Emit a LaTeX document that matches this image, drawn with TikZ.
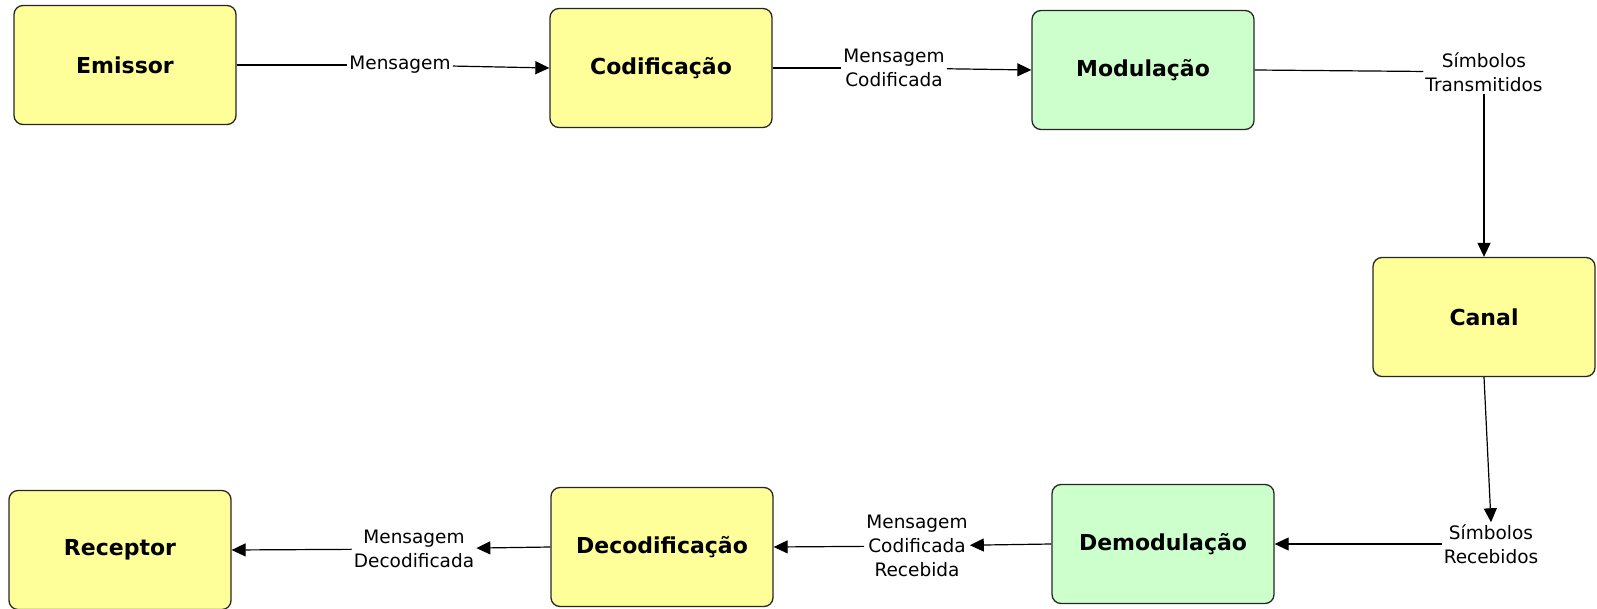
\documentclass[tikz,border=0pt]{standalone}
\usepackage{fontspec}
\setmainfont{DejaVu Sans}
\usetikzlibrary{arrows.meta}

\definecolor{boxyellow}{RGB}{255,255,153}
\definecolor{boxgreen}{RGB}{204,255,204}

\begin{document}
\begin{tikzpicture}[x=1pt,y=-1pt,
    block/.style={draw=black!85, line width=1.3pt, rounded corners=9pt,
      minimum width=222pt, minimum height=119pt, inner sep=0pt,
      font=\fontsize{22}{26}\selectfont\bfseries},
    yellowblock/.style={block, fill=boxyellow},
    greenblock/.style={block, fill=boxgreen},
    lbl/.style={font=\fontsize{18.5}{24}\selectfont, align=center, inner sep=2pt},
    conn/.style={line width=1.2pt},
    arr/.style={conn, -{Triangle[length=14pt,width=13pt]}}]
  \useasboundingbox (0,0) rectangle (1597,609);
  % blocks
  \node [yellowblock] (emissor) at (125,65) {Emissor};
  \node [yellowblock] (codif) at (661,68) {Codificação};
  \node [greenblock] (modul) at (1143,70) {Modulação};
  \node [yellowblock] (canal) at (1484,317) {Canal};
  \node [greenblock] (demod) at (1163,544) {Demodulação};
  \node [yellowblock] (decod) at (662,547) {Decodificação};
  \node [yellowblock] (receptor) at (120,550) {Receptor};
  % labels
  \node [lbl] (msg) at (400,65) {Mensagem};
  \node [lbl] (msgcod) at (894,68) {Mensagem\\Codificada};
  \node [lbl] (simbtx) at (1484,72) {Símbolos\\Transmitidos};
  \node [lbl] (simbrx) at (1491,544) {Símbolos\\Recebidos};
  \node [lbl] (msgrx) at (917,546) {Mensagem\\Codificada\\Recebida};
  \node [lbl] (msgdec) at (414,549) {Mensagem\\Decodificada};
  % connectors
  \draw [conn] (emissor.east) -- (msg);
  \draw [arr] (msg) -- (codif.west);
  \draw [conn] (codif.east) -- (msgcod);
  \draw [arr] (msgcod) -- (modul.west);
  \draw [conn] (modul.east) -- (simbtx);
  \draw [arr] (simbtx.south) -- (canal.north);
  \draw [arr] (canal.south) -- (simbrx.north);
  \draw [arr] (simbrx) -- (demod.east);
  \draw [arr] (demod.west) -- (msgrx);
  \draw [arr] (msgrx) -- (decod.east);
  \draw [arr] (decod.west) -- (msgdec);
  \draw [arr] (msgdec) -- (receptor.east);
\end{tikzpicture}
\end{document}
